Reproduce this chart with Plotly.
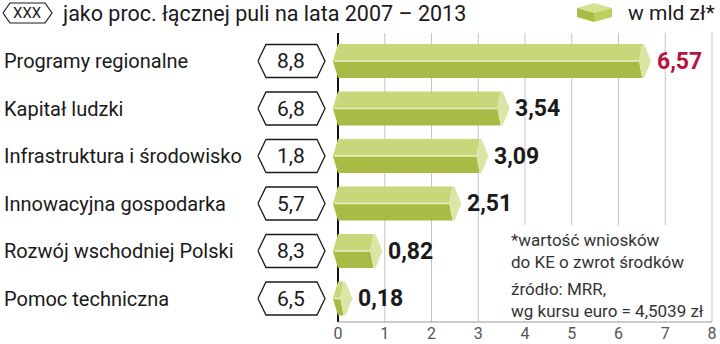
import plotly.graph_objects as go

# ---------------- data ----------------
categories = ["Programy regionalne", "Kapitał ludzki", "Infrastruktura i środowisko",
              "Innowacyjna gospodarka", "Rozwój wschodniej Polski", "Pomoc techniczna"]
values = [6.57, 3.54, 3.09, 2.51, 0.82, 0.18]
value_labels = ["6,57", "3,54", "3,09", "2,51", "0,82", "0,18"]
shares = ["8,8", "6,8", "1,8", "5,7", "8,3", "6,5"]
tick_vals = [0, 1, 2, 3, 4, 5, 6, 7, 8]
tick_text = ["0", "1", "2", "3", "4", "5", "6", "7", "8"]
header_text = "jako proc. łącznej puli na lata 2007 – 2013"
header_badge = "XXX"
legend_label = "w mld zł*"
notes = ["*wartość wniosków", "do KE o zwrot środków", "źródło: MRR,", "wg kursu euro = 4,5039 zł"]

# ---------------- geometry / style ----------------
W, H = 720, 344
MB = 22                      # bottom margin (tick labels)
PH = H - MB                  # plot height in px
PXU = 46.75                  # px per x unit
X0PX = 338                   # px of x = 0
ROW_PX = 47.5                # px per row
ROW0_PX = 61                 # px centre of first row
x_range = [-X0PX / PXU, (W - X0PX) / PXU]
y_top = -ROW0_PX / ROW_PX
y_bot = y_top + PH / ROW_PX

def px2x(px):
    return (px - X0PX) / PXU

def px2y(py):
    return y_top + py / ROW_PX

FONT = "Roboto"
TOP_C = "#c7d77a"
BOT_C = "#a9bb44"
CAP_C = "#dbe6a6"
TXT_C = "#1a1a1a"
RED_C = "#b8123f"

fig = go.Figure()

def poly(xs, ys, fill, line_color=None, line_width=0):
    fig.add_trace(go.Scatter(
        x=list(xs) + [xs[0]], y=list(ys) + [ys[0]], mode="lines", fill="toself",
        fillcolor=fill, line=dict(color=line_color or fill, width=line_width),
        hoverinfo="skip", showlegend=False))

hh = 0.36     # half bar height (rows)
lp = -0.11    # left point
notch = 0.07
for i, v in enumerate(values):
    e = v - 0.06
    tip = v + 0.13
    top, bot = i - hh, i + hh
    poly([0, e, e - notch, lp], [top, top, i, i], TOP_C)
    poly([lp, e - notch, e, 0], [i, i, bot, bot], BOT_C)
    poly([e, e + 0.04, tip, e + 0.04, e, e - notch], [top, top, i, bot, bot, i], CAP_C)
    fig.add_trace(go.Scatter(x=[lp + 0.03, e - notch], y=[i, i], mode="lines",
                             line=dict(color="#e9f0c8", width=1.5), hoverinfo="skip", showlegend=False))

# badges
bcx, bhw, binset, bhh = -0.995, 0.717, 0.171, 0.347
for i, s in enumerate(shares):
    xs = [bcx - bhw, bcx - bhw + binset, bcx + bhw - binset, bcx + bhw, bcx + bhw - binset, bcx - bhw + binset]
    ys = [i, i - bhh, i - bhh, i, i + bhh, i + bhh]
    poly(xs, ys, "white", "#1a1a1a", 1.3)

# header badge
hx0, hx1, hy0, hy1 = px2x(3), px2x(52), px2y(3), px2y(23)
hins = 7 / PXU
hmid = (hy0 + hy1) / 2
poly([hx0, hx0 + hins, hx1 - hins, hx1, hx1 - hins, hx0 + hins],
     [hmid, hy0, hy0, hmid, hy1, hy1], "white", "#1a1a1a", 1.2)

# legend cube
cx0, cxm, cx1 = px2x(577), px2x(594), px2x(612)
poly([cx0, cxm, cx1, cxm], [px2y(8), px2y(3), px2y(8), px2y(13)], "#d3e28f")
poly([cx0, cxm, cxm, cx0], [px2y(8), px2y(13), px2y(22), px2y(17)], "#a9bb44")
poly([cxm, cx1, cx1, cxm], [px2y(13), px2y(8), px2y(17), px2y(22)], "#bcce5c")

shapes = []
grid_top = 1 - 33 / PH
for t in tick_vals[1:]:
    shapes.append(dict(type="line", xref="x", yref="paper", x0=t, x1=t, y0=0, y1=grid_top,
                       line=dict(color="#c4c4c4", width=1), layer="below"))
# white note box
shapes.append(dict(type="rect", xref="x", yref="paper", x0=3.03, x1=7.97, y0=0.003, y1=1 - 225 / PH,
                   fillcolor="white", line=dict(width=0), layer="below"))
# zero axis line
shapes.append(dict(type="line", xref="x", yref="paper", x0=0, x1=0, y0=0, y1=grid_top,
                   line=dict(color="#111111", width=2), layer="below"))
# baseline
shapes.append(dict(type="line", xref="x", yref="paper", x0=0, x1=8, y0=0, y1=0,
                   line=dict(color="#9a9a9a", width=1), layer="below"))

ann = []
for i, (c, s, v, lab) in enumerate(zip(categories, shares, values, value_labels)):
    ann.append(dict(x=2 / W, xref="paper", y=i, yref="y", text=c, showarrow=False,
                    xanchor="left", yanchor="middle", font=dict(family=FONT, size=20, color=TXT_C)))
    ann.append(dict(x=bcx, y=i, text=s, showarrow=False, xanchor="center", yanchor="middle",
                    font=dict(family=FONT, size=21, color=TXT_C)))
    ann.append(dict(x=v + 0.2, y=i, text="<b>" + lab + "</b>", showarrow=False,
                    xanchor="left", yanchor="middle",
                    font=dict(family=FONT, size=23, color=RED_C if i == 0 else TXT_C)))

ann.append(dict(x=(hx0 + hx1) / 2, y=hmid, text=header_badge, showarrow=False, xanchor="center",
                yanchor="middle", font=dict(family=FONT, size=15, color=TXT_C)))
ann.append(dict(x=px2x(60), y=px2y(13), text=header_text, showarrow=False, xanchor="left",
                yanchor="middle", font=dict(family=FONT, size=21.5, color=TXT_C)))
ann.append(dict(x=px2x(626), y=px2y(13), text=legend_label, showarrow=False, xanchor="left",
                yanchor="middle", font=dict(family=FONT, size=21, color=TXT_C)))
for txt, py in zip(notes, [240, 262, 289, 311]):
    ann.append(dict(x=px2x(509), y=px2y(py), text=txt, showarrow=False, xanchor="left",
                    yanchor="middle", font=dict(family=FONT, size=17, color="#333333")))

fig.update_layout(
    width=W, height=H, margin=dict(l=0, r=0, t=0, b=MB),
    paper_bgcolor="white", plot_bgcolor="white",
    xaxis=dict(range=x_range, showgrid=False, zeroline=False, showline=False,
               tickvals=tick_vals, ticktext=tick_text, ticks="",
               tickfont=dict(family=FONT, size=16, color="#555555"), fixedrange=True),
    yaxis=dict(range=[y_bot, y_top], visible=False, fixedrange=True),
    shapes=shapes, annotations=ann, showlegend=False,
)

fig.write_html("out.html", config={"displayModeBar": False})
